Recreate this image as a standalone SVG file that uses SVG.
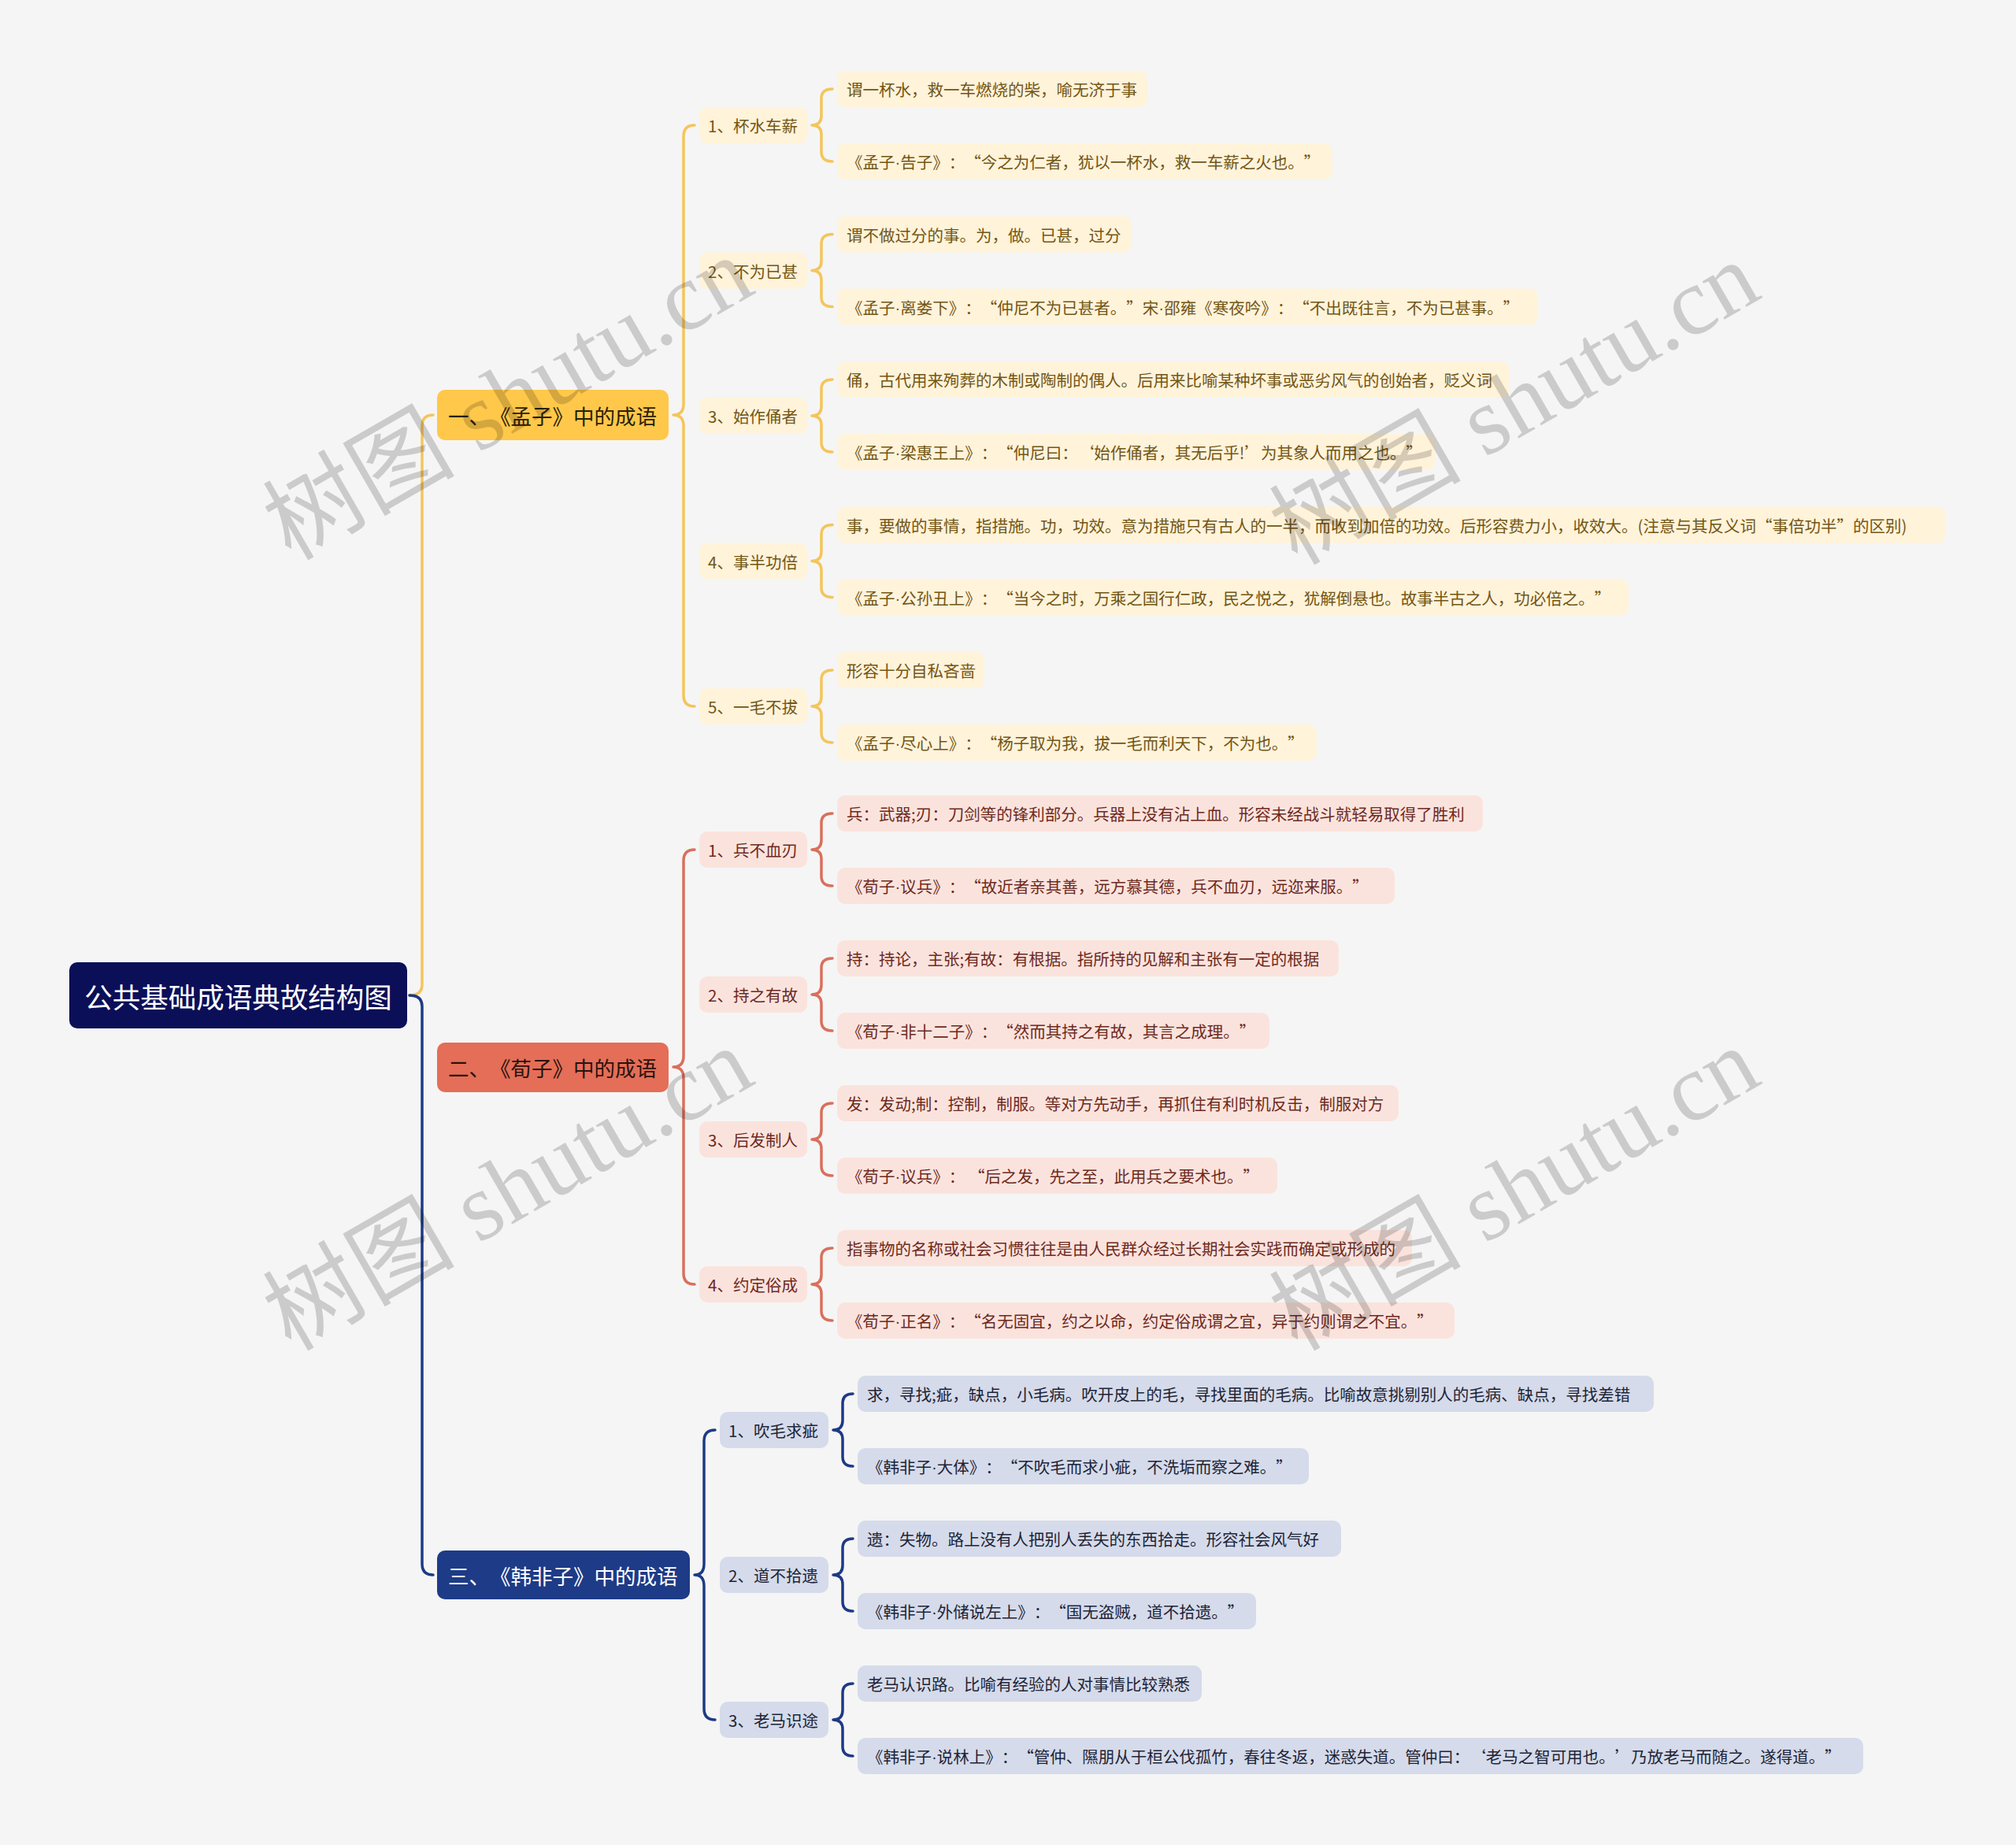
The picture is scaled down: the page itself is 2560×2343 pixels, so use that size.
<svg xmlns="http://www.w3.org/2000/svg" width="2560" height="2343" viewBox="0 0 2560 2343">
<style>
text{font-family:"Noto Sans CJK SC","Liberation Sans",sans-serif;dominant-baseline:central;text-spacing-trim:space-all}
.d{font-family:"Liberation Sans",sans-serif}
.c{fill:none;stroke-width:3.5;stroke-linecap:round;stroke-linejoin:round}
.cy{stroke:#F4C55A}.co{stroke:#D9705C}.cn{stroke:#1E3A86}
.root{fill:#0B0F58}.rt{fill:#FFFFFF;font-size:35.5px;text-anchor:middle}
.l1y{fill:#FFC84B}.l1o{fill:#E46E58}.l1n{fill:#1E3B87}
.t1y{fill:#2A2005;font-size:26.5px}.t1o{fill:#2A120C;font-size:26.5px}.t1n{fill:#FFFFFF;font-size:26.5px}
.by{fill:#FFF3DA}.bo{fill:#FBE3DD}.bn{fill:#D5DBEA}
.ty{fill:#735614;font-size:20.5px}.to{fill:#6E2A1D;font-size:20.5px}.tn{fill:#1E2438;font-size:20.5px}
.wm{font-family:"Liberation Serif","Noto Sans CJK SC",serif;font-size:122px;fill:#000000;fill-opacity:0.17;text-anchor:middle}
</style>
<rect width="2560" height="2343" fill="#F5F5F5"/>

<g id="connectors">
<path class="c cy" d="M520,1264 Q536,1264 536,1250 V541 Q536,527 550,527"/>
<path class="c cn" d="M520,1264 Q536,1264 536,1278 V1986 Q536,2000 550,2000"/>
<path class="c cy" d="M882,159 Q868,159 868,173 V513 Q868,527 855,527 Q868,527 868,541 V883 Q868,897 882,897"/>
<path class="c co" d="M882,1079 Q868,1079 868,1093 V1341 Q868,1355 855,1355 Q868,1355 868,1369 V1617 Q868,1631 882,1631"/>
<path class="c cn" d="M908,1816 Q894,1816 894,1830 V1986 Q894,2000 882,2000 Q894,2000 894,2014 V2170 Q894,2184 908,2184"/>
<path class="c cy" d="M1057,113 Q1043,113 1043,125 V147 Q1043,159 1031,159 Q1043,159 1043,171 V193 Q1043,205 1057,205"/>
<path class="c cy" d="M1057,297.5 Q1043,297.5 1043,309.5 V331.5 Q1043,343.5 1031,343.5 Q1043,343.5 1043,355.5 V377.5 Q1043,389.5 1057,389.5"/>
<path class="c cy" d="M1057,482 Q1043,482 1043,494 V516 Q1043,528 1031,528 Q1043,528 1043,540 V562 Q1043,574 1057,574"/>
<path class="c cy" d="M1057,666.5 Q1043,666.5 1043,678.5 V700.5 Q1043,712.5 1031,712.5 Q1043,712.5 1043,724.5 V746.5 Q1043,758.5 1057,758.5"/>
<path class="c cy" d="M1057,851 Q1043,851 1043,863 V885 Q1043,897 1031,897 Q1043,897 1043,909 V931 Q1043,943 1057,943"/>
<path class="c co" d="M1057,1033 Q1043,1033 1043,1045 V1067 Q1043,1079 1031,1079 Q1043,1079 1043,1091 V1113 Q1043,1125 1057,1125"/>
<path class="c co" d="M1057,1217 Q1043,1217 1043,1229 V1251 Q1043,1263 1031,1263 Q1043,1263 1043,1275 V1297 Q1043,1309 1057,1309"/>
<path class="c co" d="M1057,1401 Q1043,1401 1043,1413 V1435 Q1043,1447 1031,1447 Q1043,1447 1043,1459 V1481 Q1043,1493 1057,1493"/>
<path class="c co" d="M1057,1585 Q1043,1585 1043,1597 V1619 Q1043,1631 1031,1631 Q1043,1631 1043,1643 V1665 Q1043,1677 1057,1677"/>
<path class="c cn" d="M1083,1770 Q1070,1770 1070,1782 V1804 Q1070,1816 1058,1816 Q1070,1816 1070,1828 V1850 Q1070,1862 1083,1862"/>
<path class="c cn" d="M1083,1954 Q1070,1954 1070,1966 V1988 Q1070,2000 1058,2000 Q1070,2000 1070,2012 V2034 Q1070,2046 1083,2046"/>
<path class="c cn" d="M1083,2138 Q1070,2138 1070,2150 V2172 Q1070,2184 1058,2184 Q1070,2184 1070,2196 V2218 Q1070,2230 1083,2230"/>
</g>

<g id="root"><rect class="root" x="88" y="1222" width="429" height="84" rx="10"/><text class="rt" x="302.5" y="1264">公共基础成语典故结构图</text></g>

<g id="n1"><rect class="l1y" x="555" y="495" width="294" height="64" rx="10"/><text class="t1y" x="569" y="527">一、《孟子》中的成语</text></g>
<g id="n2"><rect class="l1o" x="555" y="1324" width="294" height="63" rx="10"/><text class="t1o" x="569" y="1355.5">二、《荀子》中的成语</text></g>
<g id="n3"><rect class="l1n" x="555" y="1969" width="321" height="62" rx="10"/><text class="t1n" x="569" y="2000">三、《韩非子》中的成语</text></g>

<g id="n1-1"><rect class="by" x="888" y="136" width="137" height="46" rx="10"/><text class="ty" x="899" y="159">1、杯水车薪</text></g>
<g id="n1-1a"><rect class="by" x="1063" y="90" width="394" height="46" rx="10"/><text class="ty" x="1075" y="113">谓一杯水，救一车燃烧的柴，喻无济于事</text></g>
<g id="n1-1b"><rect class="by" x="1063" y="182" width="629" height="46" rx="10"/><text class="ty" x="1075" y="205">《孟子<tspan class="d">·</tspan>告子》：“今之为仁者，犹以一杯水，救一车薪之火也。”</text></g>

<g id="n1-2"><rect class="by" x="888" y="320.5" width="137" height="46" rx="10"/><text class="ty" x="899" y="343.5">2、不为已甚</text></g>
<g id="n1-2a"><rect class="by" x="1063" y="274.5" width="374" height="46" rx="10"/><text class="ty" x="1075" y="297.5">谓不做过分的事。为，做。已甚，过分</text></g>
<g id="n1-2b"><rect class="by" x="1063" y="366.5" width="890" height="46" rx="10"/><text class="ty" x="1075" y="389.5">《孟子<tspan class="d">·</tspan>离娄下》：“仲尼不为已甚者。”宋<tspan class="d">·</tspan>邵雍《寒夜吟》：“不出既往言，不为已甚事。”</text></g>

<g id="n1-3"><rect class="by" x="888" y="505" width="137" height="46" rx="10"/><text class="ty" x="899" y="528">3、始作俑者</text></g>
<g id="n1-3a"><rect class="by" x="1063" y="459" width="854" height="46" rx="10"/><text class="ty" x="1075" y="482">俑，古代用来殉葬的木制或陶制的偶人。后用来比喻某种坏事或恶劣风气的创始者，贬义词</text></g>
<g id="n1-3b"><rect class="by" x="1063" y="551" width="759" height="46" rx="10"/><text class="ty" x="1075" y="574">《孟子<tspan class="d">·</tspan>梁惠王上》：“仲尼曰：‘始作俑者，其无后乎!’为其象人而用之也。”</text></g>

<g id="n1-4"><rect class="by" x="888" y="689.5" width="137" height="46" rx="10"/><text class="ty" x="899" y="712.5">4、事半功倍</text></g>
<g id="n1-4a"><rect class="by" x="1063" y="643.5" width="1408" height="46" rx="10"/><text class="ty" x="1075" y="666.5">事，要做的事情，指措施。功，功效。意为措施只有古人的一半，而收到加倍的功效。后形容费力小，收效大。(注意与其反义词“事倍功半”的区别)</text></g>
<g id="n1-4b"><rect class="by" x="1063" y="735.5" width="1005" height="46" rx="10"/><text class="ty" x="1075" y="758.5">《孟子<tspan class="d">·</tspan>公孙丑上》：“当今之时，万乘之国行仁政，民之悦之，犹解倒悬也。故事半古之人，功必倍之。”</text></g>

<g id="n1-5"><rect class="by" x="888" y="874" width="137" height="46" rx="10"/><text class="ty" x="899" y="897">5、一毛不拔</text></g>
<g id="n1-5a"><rect class="by" x="1063" y="828" width="187" height="46" rx="10"/><text class="ty" x="1075" y="851">形容十分自私吝啬</text></g>
<g id="n1-5b"><rect class="by" x="1063" y="920" width="609" height="46" rx="10"/><text class="ty" x="1075" y="943">《孟子<tspan class="d">·</tspan>尽心上》：“杨子取为我，拔一毛而利天下，不为也。”</text></g>

<g id="n2-1"><rect class="bo" x="888" y="1056" width="137" height="46" rx="10"/><text class="to" x="899" y="1079">1、兵不血刃</text></g>
<g id="n2-1a"><rect class="bo" x="1063" y="1010" width="820" height="46" rx="10"/><text class="to" x="1075" y="1033">兵：武器;刃：刀剑等的锋利部分。兵器上没有沾上血。形容未经战斗就轻易取得了胜利</text></g>
<g id="n2-1b"><rect class="bo" x="1063" y="1102" width="708" height="46" rx="10"/><text class="to" x="1075" y="1125">《荀子<tspan class="d">·</tspan>议兵》：“故近者亲其善，远方慕其德，兵不血刃，远迩来服。”</text></g>

<g id="n2-2"><rect class="bo" x="888" y="1240" width="137" height="46" rx="10"/><text class="to" x="899" y="1263">2、持之有故</text></g>
<g id="n2-2a"><rect class="bo" x="1063" y="1194" width="637" height="46" rx="10"/><text class="to" x="1075" y="1217">持：持论，主张;有故：有根据。指所持的见解和主张有一定的根据</text></g>
<g id="n2-2b"><rect class="bo" x="1063" y="1286" width="549" height="46" rx="10"/><text class="to" x="1075" y="1309">《荀子<tspan class="d">·</tspan>非十二子》：“然而其持之有故，其言之成理。”</text></g>

<g id="n2-3"><rect class="bo" x="888" y="1424" width="137" height="46" rx="10"/><text class="to" x="899" y="1447">3、后发制人</text></g>
<g id="n2-3a"><rect class="bo" x="1063" y="1378" width="713" height="46" rx="10"/><text class="to" x="1075" y="1401">发：发动;制：控制，制服。等对方先动手，再抓住有利时机反击，制服对方</text></g>
<g id="n2-3b"><rect class="bo" x="1063" y="1470" width="559" height="46" rx="10"/><text class="to" x="1075" y="1493">《荀子<tspan class="d">·</tspan>议兵》： “后之发，先之至，此用兵之要术也。”</text></g>

<g id="n2-4"><rect class="bo" x="888" y="1608" width="137" height="46" rx="10"/><text class="to" x="899" y="1631">4、约定俗成</text></g>
<g id="n2-4a"><rect class="bo" x="1063" y="1562" width="730" height="46" rx="10"/><text class="to" x="1075" y="1585">指事物的名称或社会习惯往往是由人民群众经过长期社会实践而确定或形成的</text></g>
<g id="n2-4b"><rect class="bo" x="1063" y="1654" width="784" height="46" rx="10"/><text class="to" x="1075" y="1677">《荀子<tspan class="d">·</tspan>正名》：“名无固宜，约之以命，约定俗成谓之宜，异于约则谓之不宜。”</text></g>

<g id="n3-1"><rect class="bn" x="914" y="1793" width="138" height="46" rx="10"/><text class="tn" x="925" y="1816">1、吹毛求疵</text></g>
<g id="n3-1a"><rect class="bn" x="1089" y="1747" width="1011" height="46" rx="10"/><text class="tn" x="1101" y="1770">求，寻找;疵，缺点，小毛病。吹开皮上的毛，寻找里面的毛病。比喻故意挑剔别人的毛病、缺点，寻找差错</text></g>
<g id="n3-1b"><rect class="bn" x="1089" y="1839" width="573" height="46" rx="10"/><text class="tn" x="1101" y="1862">《韩非子<tspan class="d">·</tspan>大体》：“不吹毛而求小疵，不洗垢而察之难。”</text></g>

<g id="n3-2"><rect class="bn" x="914" y="1977" width="138" height="46" rx="10"/><text class="tn" x="925" y="2000">2、道不拾遗</text></g>
<g id="n3-2a"><rect class="bn" x="1089" y="1931" width="614" height="46" rx="10"/><text class="tn" x="1101" y="1954">遗：失物。路上没有人把别人丢失的东西拾走。形容社会风气好</text></g>
<g id="n3-2b"><rect class="bn" x="1089" y="2023" width="506" height="46" rx="10"/><text class="tn" x="1101" y="2046">《韩非子<tspan class="d">·</tspan>外储说左上》：“国无盗贼，道不拾遗。”</text></g>

<g id="n3-3"><rect class="bn" x="914" y="2161" width="138" height="46" rx="10"/><text class="tn" x="925" y="2184">3、老马识途</text></g>
<g id="n3-3a"><rect class="bn" x="1089" y="2115" width="437" height="46" rx="10"/><text class="tn" x="1101" y="2138">老马认识路。比喻有经验的人对事情比较熟悉</text></g>
<g id="n3-3b"><rect class="bn" x="1089" y="2207" width="1277" height="46" rx="10"/><text class="tn" x="1101" y="2230">《韩非子<tspan class="d">·</tspan>说林上》：“管仲、隰朋从于桓公伐孤竹，春往冬返，迷惑失道。管仲曰：‘老马之智可用也。’乃放老马而随之。遂得道。”</text></g>

<g id="watermark">
<text class="wm" transform="translate(645,506) rotate(-30)">树图 shutu.cn</text>
<text class="wm" transform="translate(1923,512) rotate(-30)">树图 shutu.cn</text>
<text class="wm" transform="translate(645,1510) rotate(-30)">树图 shutu.cn</text>
<text class="wm" transform="translate(1923,1510) rotate(-30)">树图 shutu.cn</text>
<text class="wm" transform="translate(645,2522) rotate(-30)">树图 shutu.cn</text>
<text class="wm" transform="translate(1923,2522) rotate(-30)">树图 shutu.cn</text>
</g>
</svg>
